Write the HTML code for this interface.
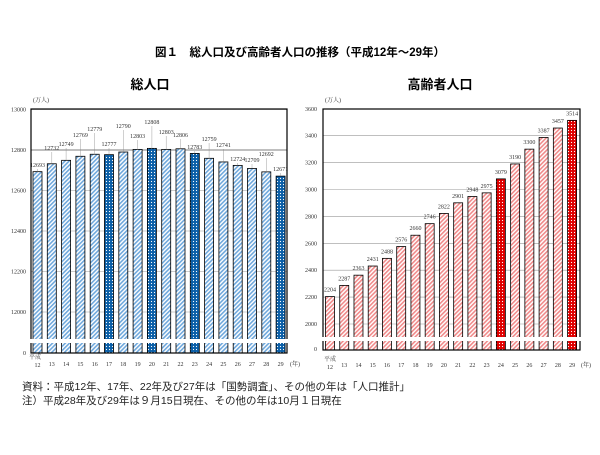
<!DOCTYPE html>
<html><head><meta charset="utf-8"><style>
body{margin:0;background:#fff;width:600px;height:450px;overflow:hidden}
svg text{font-family:"Liberation Serif","Noto Serif CJK SC",serif}
svg text.s{font-family:"Liberation Sans","Noto Sans CJK JP",sans-serif}
</style></head><body>
<svg id="s" width="600" height="450" xmlns="http://www.w3.org/2000/svg">
<defs>
<pattern id="hb" width="3" height="3" patternUnits="userSpaceOnUse" patternTransform="rotate(45)"><rect width="3" height="3" fill="#fff"/><rect width="1.6" height="3" fill="#6fa8dc"/></pattern>
<pattern id="db" width="3" height="3" patternUnits="userSpaceOnUse"><rect width="3" height="3" fill="#0b5fa8"/><circle cx="1.5" cy="1.5" r="0.6" fill="#fff"/></pattern>
<pattern id="hr" width="3" height="3" patternUnits="userSpaceOnUse" patternTransform="rotate(45)"><rect width="3" height="3" fill="#fff"/><rect width="1.6" height="3" fill="#f08a8a"/></pattern>
<pattern id="dr" width="3" height="3" patternUnits="userSpaceOnUse"><rect width="3" height="3" fill="#e00000"/><circle cx="1.5" cy="1.5" r="0.6" fill="#fff"/></pattern>
</defs>
<text class="s" x="300" y="56" font-size="11.5" font-weight="bold" text-anchor="middle">図１　総人口及び高齢者人口の推移（平成12年～29年）</text>
<text class="s" x="150" y="89" font-size="13" font-weight="bold" text-anchor="middle">総人口</text>
<text class="s" x="440" y="89" font-size="13" font-weight="bold" text-anchor="middle">高齢者人口</text>
<text class="s" x="22" y="390" font-size="10.5" fill="#222">資料：平成12年、17年、22年及び27年は「国勢調査」、その他の年は「人口推計」</text>
<text class="s" x="22" y="404" font-size="10.5" fill="#222">注）平成28年及び29年は９月15日現在、その他の年は10月１日現在</text>
<g id="g"></g>
</svg>
<script>
var g=document.getElementById('g'),h='';
function t(x,y,s,sz,a){h+='<text x="'+x+'" y="'+y+'" font-size="'+(sz||6)+'" fill="#333" text-anchor="'+(a||'middle')+'">'+s+'</text>';}
var L=[12693,12732,12749,12769,12779,12777,12790,12803,12808,12803,12806,12783,12759,12741,12724,12709,12692,12671];
var LY=[167,150,146,137,131,146,128,138,124,134,137,149,141,147,161,162,156,171];
var ld=[5,8,11,17];
t(33,102,'(万人)',6,'start');
for(var i=0;i<=5;i++){var v=12000+i*200,y=312-i*40.5;h+='<line x1="31" x2="287" y1="'+y+'" y2="'+y+'" stroke="'+(i==4?'#aaa':'#999')+'" stroke-width="'+(i==4?1.5:0.6)+'"/>';t(26,y+2,v,6,'end');}
t(26,355,'0',6,'end');
for(var i=0;i<18;i++){var cx=37.5+i*14.3,y=312-(L[i]-12000)*40.5/200;
h+='<rect x="'+(cx-4.5)+'" y="'+y+'" width="9" height="'+(353-y)+'" fill="url(#'+(ld.indexOf(i)>=0?'db':'hb')+')" stroke="#000" stroke-width="0.8"/>';
t(cx,LY[i],L[i]);h+='<line x1="'+cx+'" x2="'+cx+'" y1="'+(LY[i]+2)+'" y2="'+y+'" stroke="#888" stroke-width="0.4"/>';
t(cx,i==0?367:366,12+i);}
t(35,359,'平成',6);t(295,366,'(年)',6);
h+='<rect x="31" y="109" width="256" height="244" fill="none" stroke="#000" stroke-width="1.2"/>';
h+='<rect x="25" y="339" width="268" height="4" fill="#fff"/>';
var R=[2204,2287,2363,2431,2488,2576,2660,2746,2822,2901,2948,2975,3079,3190,3300,3387,3457,3514];
var rd=[12,17];
t(325,102,'(万人)',6,'start');
for(var i=0;i<=8;i++){var v=2000+i*200,y=324-i*26.9;h+='<line x1="323" x2="580" y1="'+y+'" y2="'+y+'" stroke="#999" stroke-width="0.6"/>';t(317,y+2,v,6,'end');}
t(317,351,'0',6,'end');
for(var i=0;i<18;i++){var cx=330+i*14.24,y=324-(R[i]-2000)*0.1345;
h+='<rect x="'+(cx-4.5)+'" y="'+y+'" width="9" height="'+(350-y)+'" fill="url(#'+(rd.indexOf(i)>=0?'dr':'hr')+')" stroke="#000" stroke-width="0.8"/>';
t(cx,y-5,R[i]);t(cx,i==0?369:367,12+i);}
t(330,361,'平成',6);t(586,367,'(年)',6);
h+='<rect x="323" y="109" width="257" height="241" fill="none" stroke="#000" stroke-width="1.2"/>';
h+='<rect x="318" y="337" width="268" height="4" fill="#fff"/>';
g.innerHTML=h;
</script>
</body></html>
